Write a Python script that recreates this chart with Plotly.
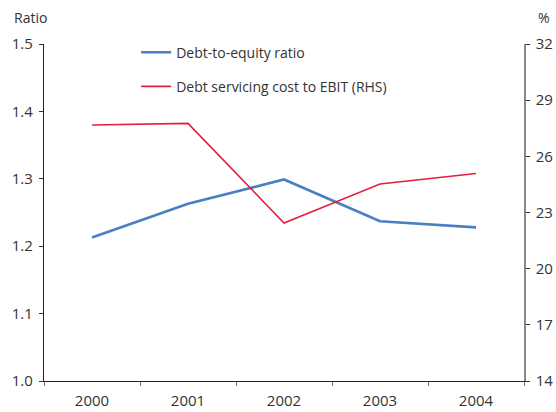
import plotly.graph_objects as go

years = ["2000", "2001", "2002", "2003", "2004"]
debt_to_equity = [1.213, 1.263, 1.299, 1.237, 1.228]
debt_service_to_ebit = [27.67, 27.76, 22.44, 24.52, 25.08]
left_ticks = [1.0, 1.1, 1.2, 1.3, 1.4, 1.5]
right_ticks = [14, 17, 20, 23, 26, 29, 32]

FONT = "Open Sans"
TXT = "#333333"

fig = go.Figure()
fig.add_trace(go.Scatter(
    x=years, y=debt_to_equity, name="Debt-to-equity ratio",
    mode="lines", line=dict(color="#4a7fc3", width=2.6),
    legendgroup="a", yaxis="y"))
fig.add_trace(go.Scatter(
    x=years, y=debt_service_to_ebit, name="Debt servicing cost to EBIT (RHS)",
    mode="lines", line=dict(color="#e1203f", width=1.6),
    legendgroup="b", yaxis="y2"))

fig.update_layout(
    template="none",
    width=556, height=412,
    margin=dict(l=44, r=32, t=43.5, b=31, autoexpand=False),
    paper_bgcolor="white", plot_bgcolor="white",
    font=dict(family=FONT, size=15, color=TXT),
    showlegend=True,
    legend=dict(x=0.192, y=0.924, xanchor="left", yanchor="middle",
                bgcolor="rgba(0,0,0,0)", font=dict(size=14, color=TXT),
                tracegroupgap=13),
    xaxis=dict(type="category", categoryorder="array", categoryarray=years,
               range=[-0.5, 4.5], showgrid=False, showline=True,
               automargin=False, zeroline=False,
               linecolor="#222222", linewidth=1.2,
               ticks="outside", ticklen=4, tickcolor="#777777",
               ticklabelstandoff=6,
               tickson="boundaries", tickfont=dict(size=15, color=TXT)),
    yaxis=dict(range=[1.0, 1.5], tickvals=left_ticks,
               ticktext=[f"{v:.1f}" for v in left_ticks],
               showgrid=False, zeroline=False, showline=True,
               automargin=False, ticklabelstandoff=3,
               linecolor="#222222", linewidth=1.2,
               ticks="outside", ticklen=4, tickcolor="#333333",
               tickfont=dict(size=15, color=TXT)),
    yaxis2=dict(range=[14, 32], tickvals=right_ticks, overlaying="y",
                side="right", showgrid=False, zeroline=False, showline=True,
                automargin=False, ticklabelstandoff=3,
                linecolor="#888888", linewidth=1.5,
                ticks="outside", ticklen=4, tickcolor="#333333",
                tickfont=dict(size=15, color=TXT)),
    annotations=[
        dict(text="Ratio", xref="paper", yref="paper", x=-0.0667, y=1.0785,
             xanchor="left", yanchor="middle", showarrow=False,
             font=dict(size=14, color=TXT)),
        dict(text="%", xref="paper", yref="paper", x=1.058, y=1.0785,
             xanchor="right", yanchor="middle", showarrow=False,
             font=dict(size=14, color=TXT)),
    ],
)

fig.write_html(
    "out.html",
    config={"displayModeBar": False},
    post_script="document.body.style.margin='0';document.body.style.overflow='hidden';",
)
